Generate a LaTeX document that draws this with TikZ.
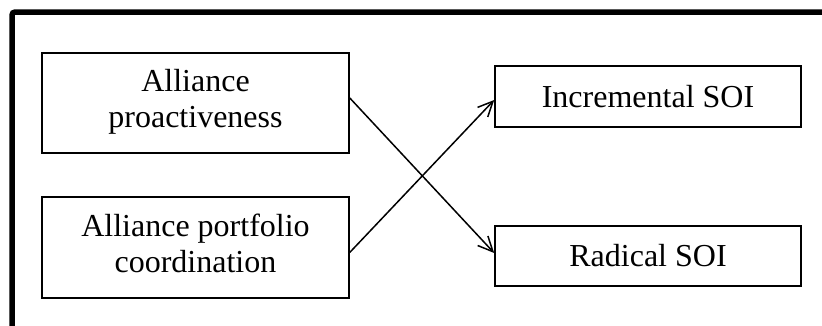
\documentclass[tikz,border=0pt]{standalone}
\usepackage{fontspec}
\setmainfont{Liberation Serif}
\usetikzlibrary{arrows.meta}
\newcommand{\twolines}[3]{\raisebox{#1}{\begin{tabular}{@{}c@{}}#2\\#3\end{tabular}}}
\begin{document}
\begin{tikzpicture}[x=1pt,y=-1pt,
  box/.style={draw,line width=1.6pt,inner sep=0pt,align=center,
    font=\fontsize{32}{36}\selectfont},
  link/.style={line width=1.5pt,-{Straight Barb[length=15pt,width=14pt,line width=1.5pt]}}]
  \useasboundingbox (0,0) rectangle (822,325);
  % frame: only its top and left sides fall inside the page
  \draw[line width=5.5pt,rounded corners=3pt] (12,330) -- (12,12) -- (830,12);
  % constructs on the left
  \node[box,minimum width=307pt,minimum height=100pt] (ap) at (195.5,102.7)
    {\twolines{-4pt}{Alliance}{proactiveness}};
  \node[box,minimum width=307pt,minimum height=101pt] (apc) at (195.5,247.7)
    {\twolines{6pt}{Alliance portfolio}{coordination}};
  % outcomes on the right
  \node[box,minimum width=306pt,minimum height=61pt] (inc) at (648,96.5) {Incremental SOI};
  \node[box,minimum width=306pt,minimum height=60pt] (rad) at (648,256) {Radical SOI};
  % crossing paths
  \draw[link] ([yshift=4.7pt]ap.east) -- ([yshift=3pt]rad.west);
  \draw[link] ([yshift=-4.7pt]apc.east) -- ([yshift=-3.5pt]inc.west);
\end{tikzpicture}
\end{document}
